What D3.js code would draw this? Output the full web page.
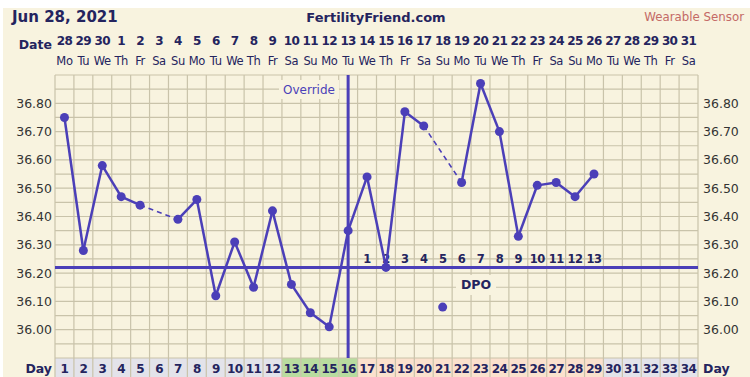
<!DOCTYPE html>
<html><head><meta charset="utf-8">
<script src="https://cdn.jsdelivr.net/npm/d3@7"></script>
<style>
html,body{margin:0;padding:0;background:#fff;}
svg{display:block;font-family:"DejaVu Sans",Verdana,sans-serif;}
</style></head>
<body><svg id="c" width="750" height="377"></svg>
<script>
const days = d3.range(1, 35);
const dateLabels = ["28","29","30","1","2","3","4","5","6","7","8","9","10","11","12","13","14","15","16","17","18","19","20","21","22","23","24","25","26","27","28","29","30","31"];
const weekdays = ["Mo","Tu","We","Th","Fr","Sa","Su","Mo","Tu","We","Th","Fr","Sa","Su","Mo","Tu","We","Th","Fr","Sa","Su","Mo","Tu","We","Th","Fr","Sa","Su","Mo","Tu","We","Th","Fr","Sa"];
const tempDays = [1,2,3,4,5,7,8,9,10,11,12,13,14,15,16,17,18,19,20,21,22,23,24,25,26,27,28,29];
const temps = [36.75,36.28,36.58,36.47,36.44,36.39,36.46,36.12,36.31,36.15,36.42,36.16,36.06,36.01,36.35,36.54,36.22,36.77,36.72,36.08,36.52,36.87,36.70,36.33,36.51,36.52,36.47,36.55];
const discardedDays = [21];
const yTicks = [36.00,36.10,36.20,36.30,36.40,36.50,36.60,36.70,36.80];
const coverline = 36.22;
const overrideDay = 16;
const dpoLabels = ["1","2","3","4","5","6","7","8","9","10","11","12","13"];
const dpoStartDay = 17;
const fertileDays = [13,14,15,16];
const lutealDays = d3.range(17,30);

const svg = d3.select("#c");
const L = 55, R = 698, T = 75, B = 358;
const x = d3.scaleBand().domain(days).range([L, R]);
const y = d3.scaleLinear().domain([35.90, 36.90]).range([B, T]);
const cx = d => x(d) + x.bandwidth()/2;

const bg = "#f8f3df", grid = "#c9c3aa", navy = "#24245e", blue = "#4b3fb8";

svg.append("rect").attr("x",3).attr("y",8).attr("width",747).attr("height",369).attr("fill",bg);

// Header
svg.append("text").attr("x",12).attr("y",22).attr("font-size",15).attr("font-weight","bold").attr("fill",navy).text("Jun 28, 2021");
svg.append("text").attr("x",376).attr("y",22).attr("text-anchor","middle").attr("font-size",13).attr("font-weight","bold").attr("fill",navy).text("FertilityFriend.com");
svg.append("text").attr("x",744).attr("y",21).attr("text-anchor","end").attr("font-size",11.8).attr("fill","#c46a66").text("Wearable Sensor");

// Date rows
svg.append("text").attr("x",52).attr("y",49).attr("text-anchor","end").attr("font-size",12.5).attr("font-weight","bold").attr("fill",navy).text("Date");
svg.append("g").selectAll("text").data(days).join("text")
  .attr("x", d=>cx(d)).attr("y",45).attr("text-anchor","middle").attr("font-size",12).attr("font-weight","bold").attr("fill",navy)
  .attr("letter-spacing",-0.6).text((d,i)=>dateLabels[i]);
svg.append("g").selectAll("text").data(days).join("text")
  .attr("x", d=>cx(d)).attr("y",65).attr("text-anchor","middle").attr("font-size",11.5).attr("fill",navy)
  .attr("letter-spacing",-0.4).text((d,i)=>weekdays[i]);

// Day row cells
const dayFill = d => fertileDays.includes(d) ? "#b9dc9f" : (lutealDays.includes(d) ? "#fbe1cd" : "#e3e3ea");
svg.append("g").selectAll("rect").data(days).join("rect")
  .attr("x", d=>x(d)).attr("y",B).attr("width",x.bandwidth()).attr("height",377-B)
  .attr("fill", dayFill);

// Grid
const hLines = d3.range(0,21).map(i => 35.90 + i*0.05);
svg.append("g").selectAll("line").data(hLines).join("line")
  .attr("x1",L).attr("x2",R).attr("y1",d=>y(d)).attr("y2",d=>y(d))
  .attr("stroke",grid).attr("stroke-width",1.2);
const vLines = days.map(d=>x(d)).concat([R]);
svg.append("g").selectAll("line").data(vLines).join("line")
  .attr("x1",d=>d).attr("x2",d=>d).attr("y1",T).attr("y2",377)
  .attr("stroke",grid).attr("stroke-width",1.2);

// Y labels
svg.append("g").selectAll("text").data(yTicks).join("text")
  .attr("x",52).attr("y",d=>y(d)+4.5).attr("text-anchor","end").attr("font-size",12.5).attr("fill","#333")
  .text(d=>d3.format(".2f")(d));
svg.append("g").selectAll("text").data(yTicks).join("text")
  .attr("x",703).attr("y",d=>y(d)+4.5).attr("text-anchor","start").attr("font-size",12.5).attr("fill","#333")
  .text(d=>d3.format(".2f")(d));

// Day labels
svg.append("text").attr("x",52).attr("y",373).attr("text-anchor","end").attr("font-size",12.5).attr("font-weight","bold").attr("fill",navy).text("Day");
svg.append("text").attr("x",703).attr("y",373).attr("font-size",12.5).attr("font-weight","bold").attr("fill",navy).text("Day");
svg.append("g").selectAll("text").data(days).join("text")
  .attr("x", d=>cx(d)).attr("y",373).attr("text-anchor","middle").attr("font-size",12).attr("font-weight","bold").attr("fill",navy)
  .attr("letter-spacing",-0.6).text(d=>d);

// Coverline
svg.append("line").attr("x1",L).attr("x2",R).attr("y1",y(coverline)).attr("y2",y(coverline)).attr("stroke",blue).attr("stroke-width",3);

// Override line
svg.append("line").attr("x1",cx(overrideDay)).attr("x2",cx(overrideDay)).attr("y1",T).attr("y2",B).attr("stroke",blue).attr("stroke-width",3);
svg.append("rect").attr("x",279).attr("y",80).attr("width",60).attr("height",19).attr("fill",bg);
svg.append("text").attr("x",309).attr("y",94).attr("text-anchor","middle").attr("font-size",12).attr("fill",blue).text("Override");

// DPO numbers
svg.append("g").selectAll("text").data(dpoLabels).join("text")
  .attr("x",(d,i)=>cx(dpoStartDay+i)).attr("y",263).attr("text-anchor","middle").attr("font-size",11.5).attr("font-weight","bold").attr("fill",navy)
  .attr("letter-spacing",-0.5).text(d=>d);
svg.append("rect").attr("x",456).attr("y",275).attr("width",40).attr("height",20).attr("fill",bg);
svg.append("text").attr("x",476).attr("y",289).attr("text-anchor","middle").attr("font-size",12.5).attr("font-weight","bold").attr("fill",navy).text("DPO");

// Temperature line
const pts = tempDays.map((d,i)=>({d, t: temps[i], disc: discardedDays.includes(d)}));
const kept = pts.filter(p=>!p.disc);
const segs = [];
for (let i=1;i<kept.length;i++) segs.push({a:kept[i-1], b:kept[i], dashed: kept[i].d - kept[i-1].d > 1});
svg.append("g").selectAll("line").data(segs).join("line")
  .attr("x1",s=>cx(s.a.d)).attr("y1",s=>y(s.a.t)).attr("x2",s=>cx(s.b.d)).attr("y2",s=>y(s.b.t))
  .attr("stroke",blue).attr("stroke-width",s=>s.dashed?1.6:2.5)
  .attr("stroke-dasharray",s=>s.dashed?"5,4":null);
svg.append("g").selectAll("circle").data(pts).join("circle")
  .attr("cx",p=>cx(p.d)).attr("cy",p=>y(p.t)).attr("r",4.5).attr("fill",blue);
</script>
</body></html>
